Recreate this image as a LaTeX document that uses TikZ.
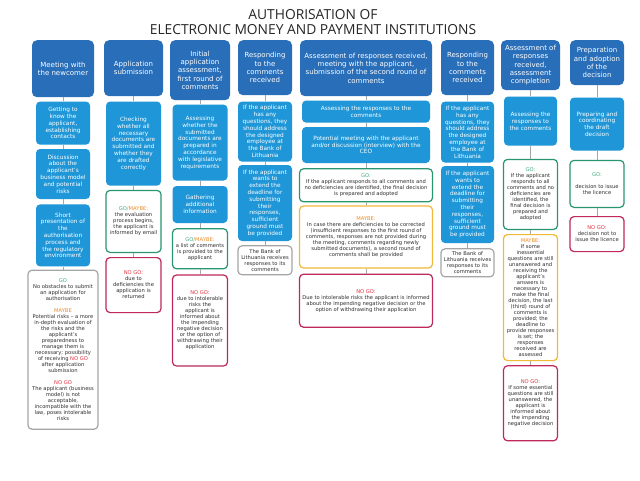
\documentclass[tikz,border=0pt]{standalone}
\usepackage{fontspec}
\setmainfont{DejaVu Sans}
\newfontfamily\titlefont{Open Sans}
\usepackage{xcolor}
\usepackage{tikz}
\usetikzlibrary{positioning}
\definecolor{headblue}{RGB}{40,110,185}
\definecolor{stepblue}{RGB}{30,150,215}
\definecolor{gogreen}{RGB}{40,150,110}
\definecolor{maybeyellow}{RGB}{240,185,55}
\definecolor{nogored}{RGB}{190,40,90}
\definecolor{infogrey}{RGB}{165,165,165}
\definecolor{golabel}{RGB}{70,175,130}
\definecolor{maybelabel}{RGB}{235,140,40}
\definecolor{nogolabel}{RGB}{225,55,65}
\definecolor{bodytext}{RGB}{45,45,45}
\newcommand{\gotag}[1]{\textcolor{golabel}{#1}}
\newcommand{\maybetag}[1]{\textcolor{maybelabel}{#1}}
\newcommand{\nogotag}[1]{\textcolor{nogolabel}{#1}}
\tikzset{wh/.style 2 args={minimum width=#1, minimum height=#2}}
\tikzstyle{headbox} = [rectangle, rounded corners=5pt, fill=headblue,
text=white, align=center, inner sep=1pt, font=\fontsize{7}{8.3}\selectfont]
\tikzstyle{stepbox} = [rectangle, rounded corners=4pt, fill=stepblue,
text=white, align=center, inner sep=1pt, font=\fontsize{5.8}{6.8}\selectfont]
\tikzstyle{notebox} = [rectangle, rounded corners=4pt, fill=white, line width=1.2pt,
text=bodytext, align=center, inner sep=1pt, font=\fontsize{5.2}{6}\selectfont]
\tikzstyle{gonote} = [notebox, draw=gogreen]
\tikzstyle{maybenote} = [notebox, draw=maybeyellow]
\tikzstyle{nogonote} = [notebox, draw=nogored]
\tikzstyle{infonote} = [notebox, draw=infogrey]
\tikzstyle{link} = [draw=gray!70, line width=0.7pt]

\begin{document}
\begin{tikzpicture}[x=1pt, y=1pt]
    \fill[white] (0,0) rectangle (640,-480);
    \useasboundingbox (0,0) rectangle (640,-480);

    \node (title) [font=\titlefont\fontsize{13.8}{15}\selectfont, align=center, text=black!85]
    at (313,-22.5) {AUTHORISATION OF\\ELECTRONIC MONEY AND PAYMENT INSTITUTIONS};

    % meeting
    \node (h1)  [headbox, wh={62}{57}, anchor=north] at (63,-40) {Meeting with\\the newcomer};
    \node (b1a) [stepbox, wh={54}{43}, below=4pt of h1] {Getting to\\know the\\applicant,\\establishing\\contacts};
    \node (b1b) [stepbox, wh={54}{50}, below=4pt of b1a] {Discussion\\about the\\applicant's\\business model\\and potential\\risks};
    \node (b1c) [stepbox, wh={54}{62}, below=5pt of b1b] {Short\\presentation of\\the\\authorisation\\process and\\the regulatory\\environment};
    \node (n1)  [infonote, wh={70}{159}, below=3pt of b1c]
    {\gotag{GO}\\No obstacles to submit\\an application for\\authorisation\\[6pt]
        \maybetag{MAYBE}\\Potential risks -- a more\\in-depth evaluation of\\the risks and the\\applicant's\\preparedness to\\manage them is\\necessary; possibility\\of receiving \nogotag{NO GO}\\after application\\submission\\[6pt]
        \nogotag{NO GO}\\The applicant (business\\model) is not\\acceptable,\\incompatible with the\\law, poses intolerable\\risks};

    % submission
    \node (h2)  [headbox, wh={59}{56}, anchor=north] at (133.5,-40) {Application\\submission};
    \node (b2a) [stepbox, wh={55}{84}, below=5pt of h2] {Checking\\whether all\\necessary\\documents are\\submitted and\\whether they\\are drafted\\correctly};
    \node (n2a) [gonote, wh={55}{62}, below=4pt of b2a] {\gotag{GO}\maybetag{/MAYBE:}\\the evaluation\\process begins,\\the applicant is\\informed by email};
    \node (n2b) [nogonote, wh={55}{55}, below=4pt of n2a] {\nogotag{NO GO:}\\due to\\deficiencies the\\application is\\returned};

    % first round
    \node (h3)  [headbox, wh={60}{60}, anchor=north] at (200,-40) {Initial\\application\\assessment,\\first round of\\comments};
    \node (b3a) [stepbox, wh={55}{76}, below=4pt of h3] {Assessing\\whether the\\submitted\\documents are\\prepared in\\accordance\\with legislative\\requirements};
    \node (b3b) [stepbox, wh={55}{37}, below=5pt of b3a] {Gathering\\additional\\information};
    \node (n3a) [gonote, wh={55}{40}, below=5pt of b3b] {\gotag{GO}\maybetag{/MAYBE:}\\a list of comments\\is provided to the\\applicant};
    \node (n3b) [nogonote, wh={55}{91}, below=5pt of n3a] {\nogotag{NO GO:}\\due to intolerable\\risks the\\applicant is\\informed about\\the impending\\negative decision\\or the option of\\withdrawing their\\application};

    % responding
    \node (h4)  [headbox, wh={54}{55}, anchor=north] at (265,-40) {Responding\\to the\\comments\\received};
    \node (b4a) [stepbox, wh={54}{60}, below=6pt of h4] {If the applicant\\has any\\questions, they\\should address\\the designed\\employee at\\the Bank of\\Lithuania};
    \node (b4b) [stepbox, wh={54}{76}, below=3pt of b4a] {If the applicant\\wants to\\extend the\\deadline for\\submitting\\their\\responses,\\sufficient\\ground must\\be provided};
    \node (n4)  [infonote, wh={54}{29}, below=4pt of b4b] {The Bank of\\Lithuania receives\\responses to its\\comments};

    % second round
    \node (h5)  [headbox, wh={132}{56}, anchor=north] at (366,-40) {Assessment of responses received,\\meeting with the applicant,\\submission of the second round of\\comments};
    \node (b5a) [stepbox, wh={128}{22}, below=4pt of h5] {Assessing the responses to the\\comments};
    \node (b5b) [stepbox, wh={128}{36}, below=4pt of b5a] {Potential meeting with the applicant\\and/or discussion (interview) with the\\CEO};
    \node (n5a) [gonote, wh={133}{33}, below=5pt of b5b] {\gotag{GO:}\\If the applicant responds to all comments and\\no deficiencies are identified, the final decision\\is prepared and adopted};
    \node (n5b) [maybenote, wh={133}{62}, below=3pt of n5a] {\maybetag{MAYBE:}\\In case there are deficiencies to be corrected\\(insufficient responses to the first round of\\comments, responses are not provided during\\the meeting, comments regarding newly\\submitted documents), a second round of\\comments shall be provided};
    \node (n5c) [nogonote, wh={133}{53}, below=5pt of n5b] {\nogotag{NO GO:}\\Due to intolerable risks the applicant is informed\\about the impending negative decision or the\\option of withdrawing their application};

    % responding again
    \node (h6)  [headbox, wh={53}{55}, anchor=north] at (467.5,-40) {Responding\\to the\\comments\\received};
    \node (b6a) [stepbox, wh={53}{61}, below=6pt of h6] {If the applicant\\has any\\questions, they\\should address\\the designed\\employee at\\the Bank of\\Lithuania};
    \node (b6b) [stepbox, wh={53}{77}, below=3pt of b6a] {If the applicant\\wants to\\extend the\\deadline for\\submitting\\their\\responses,\\sufficient\\ground must\\be provided};
    \node (n6)  [infonote, wh={53}{28}, below=5pt of b6b] {The Bank of\\Lithuania receives\\responses to its\\comments};

    % completion
    \node (h7)  [headbox, wh={59}{50}, anchor=north] at (530.5,-40) {Assessment of\\responses\\received,\\assessment\\completion};
    \node (b7a) [stepbox, wh={53}{49}, below=6pt of h7] {Assessing the\\responses to\\the comments};
    \node (n7a) [gonote, wh={54}{70}, below=13pt of b7a] {\gotag{GO:}\\If the applicant\\responds to all\\comments and no\\deficiencies are\\identified, the\\final decision is\\prepared and\\adopted};
    \node (n7b) [maybenote, wh={54}{126}, below=4pt of n7a] {\maybetag{MAYBE:}\\If some\\inessential\\questions are still\\unanswered and\\receiving the\\applicant's\\answers is\\necessary to\\make the final\\decision, the last\\(third) round of\\comments is\\provided; the\\deadline to\\provide responses\\is set; the\\responses\\received are\\assessed};
    \node (n7c) [nogonote, wh={54}{75}, below=4pt of n7b] {\nogotag{NO GO:}\\If some essential\\questions are still\\unanswered, the\\applicant is\\informed about\\the impending\\negative decision};

    % decision
    \node (h8)  [headbox, wh={54}{45}, anchor=north] at (597,-40) {Preparation\\and adoption\\of the\\decision};
    \node (b8a) [stepbox, wh={54}{53}, below=12pt of h8] {Preparing and\\coordinating\\the draft\\decision};
    \node (n8a) [gonote, wh={54}{47}, below=9pt of b8a] {\gotag{GO:}\\[6pt]decision to issue\\the licence};
    \node (n8b) [nogonote, wh={54}{35}, below=8pt of n8a] {\nogotag{NO GO:}\\decision not to\\issue the licence};

    \draw[link] (h1) -- (b1a);
    \draw[link] (b1a) -- (b1b);
    \draw[link] (b1b) -- (b1c);
    \draw[link] (b1c) -- (n1);
    \draw[link] (h2) -- (b2a);
    \draw[link] (b2a) -- (n2a);
    \draw[link] (n2a) -- (n2b);
    \draw[link] (h3) -- (b3a);
    \draw[link] (b3a) -- (b3b);
    \draw[link] (b3b) -- (n3a);
    \draw[link] (n3a) -- (n3b);
    \draw[link] (h4) -- (b4a);
    \draw[link] (b4a) -- (b4b);
    \draw[link] (b4b) -- (n4);
    \draw[link] (h5) -- (b5a);
    \draw[link] (b5a) -- (b5b);
    \draw[link] (b5b) -- (n5a);
    \draw[link] (n5a) -- (n5b);
    \draw[link] (n5b) -- (n5c);
    \draw[link] (h6) -- (b6a);
    \draw[link] (b6a) -- (b6b);
    \draw[link] (b6b) -- (n6);
    \draw[link] (h7) -- (b7a);
    \draw[link] (b7a) -- (n7a);
    \draw[link] (n7a) -- (n7b);
    \draw[link] (n7b) -- (n7c);
    \draw[link] (h8) -- (b8a);
    \draw[link] (b8a) -- (n8a);
    \draw[link] (n8a) -- (n8b);
\end{tikzpicture}
\end{document}
